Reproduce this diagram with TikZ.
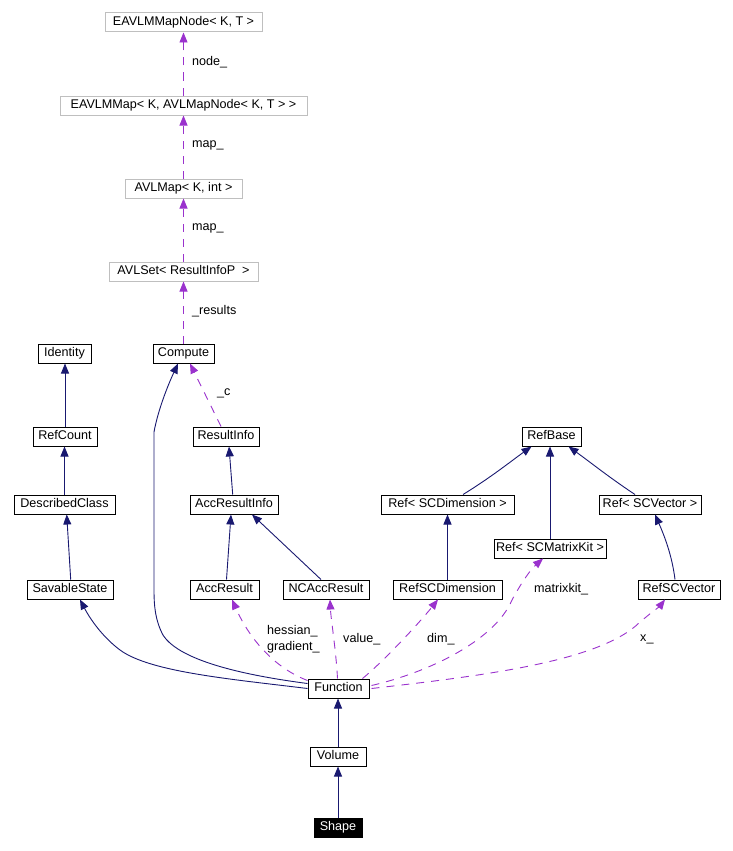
\documentclass[tikz,border=0pt]{standalone}
\usepackage{fontspec}
\setmainfont{Liberation Sans}
\usetikzlibrary{arrows.meta,calc}
\definecolor{navy}{HTML}{191970}
\definecolor{orchid}{HTML}{9A32CD}
\definecolor{grayb}{HTML}{BFBFBF}
\begin{document}
\begin{tikzpicture}[x=1pt,y=-1pt,
  cls/.style={draw=black,line width=1pt,minimum height=19pt,inner sep=0pt,
    font=\fontsize{12.6}{12.6}\selectfont,text height=9pt,text depth=2.4pt},
  tmpl/.style={cls,draw=grayb},
  inh/.style={draw=navy,line width=0.9pt,-{Triangle[length=10pt,width=8pt]}},
  use/.style={draw=orchid,line width=0.9pt,dash pattern=on 8pt off 7pt,-{Triangle[length=10pt,width=8pt]}},
  lbl/.style={anchor=west,inner sep=0pt,font=\fontsize{12.6}{12.6}\selectfont}]
\useasboundingbox (0,0) rectangle (732,851);
% nodes
\node[tmpl,minimum width=157pt] (emn) at (183.5,22.5) {EAVLMMapNode< K, T >};
\node[tmpl,minimum width=247pt] (emm) at (183.5,105.5) {EAVLMMap< K, AVLMapNode< K, T > >};
\node[tmpl,minimum width=117pt] (avlmap) at (183.5,188.5) {AVLMap< K, int >};
\node[tmpl,minimum width=149pt] (avlset) at (183.5,271.5) {AVLSet< ResultInfoP\ \ >};
\node[cls,minimum width=61pt] (compute) at (183.5,353.5) {Compute};
\node[cls,minimum width=53pt] (identity) at (64.5,353.5) {Identity};
\node[cls,minimum width=64pt] (refcount) at (65,436.5) {RefCount};
\node[cls,minimum width=101pt] (described) at (64.5,504.5) {DescribedClass};
\node[cls,minimum width=86pt] (savable) at (70,589.5) {SavableState};
\node[cls,minimum width=66pt] (resultinfo) at (226,436.5) {ResultInfo};
\node[cls,minimum width=88pt] (accresultinfo) at (234,504.5) {AccResultInfo};
\node[cls,minimum width=69pt] (accresult) at (224.5,589.5) {AccResult};
\node[cls,minimum width=86pt] (ncacc) at (326,589.5) {NCAccResult};
\node[cls,minimum width=59pt] (refbase) at (551.5,436.5) {RefBase};
\node[cls,minimum width=133pt] (refdimT) at (447.5,504.5) {Ref< SCDimension >};
\node[cls,minimum width=112pt] (refmk) at (550,548.5) {Ref< SCMatrixKit >};
\node[cls,minimum width=102pt] (refvecT) at (650,504.5) {Ref< SCVector >};
\node[cls,minimum width=109pt] (rscdim) at (447.5,589.5) {RefSCDimension};
\node[cls,minimum width=82pt] (rscvec) at (679,589.5) {RefSCVector};
\node[cls,minimum width=61pt] (function) at (338.5,688.5) {Function};
\node[cls,minimum width=56pt] (volume) at (338,756.5) {Volume};
\node[cls,minimum width=48pt,fill=black,text=white] (shape) at (338,827.5) {Shape};
% usage edges (top chain)
\draw[use] (emm.north) -- (emn.south);
\draw[use] (avlmap.north) -- (emm.south);
\draw[use] (avlset.north) -- (avlmap.south);
\draw[use] (compute.north) -- (avlset.south);
\node[lbl] (lnode) at (192,62) {node\_};
\node[lbl] (lmap1) at (192,145) {map\_};
\node[lbl] (lmap2) at (192,228) {map\_};
\node[lbl] (lres) at (192,311) {\_results};
% _c
\draw[use] ($(resultinfo.north)+(-5,0)$) -- ($(compute.south)+(6.5,0)$);
\node[lbl] (lc) at (217,393) {\_c};
% inheritance
\draw[inh] (refcount.north) -- (refcount.north |- identity.south);
\draw[inh] (described.north) -- (described.north |- refcount.south);
\draw[inh] ($(savable.north)+(0.7,0)$) -- ($(described.south)+(2.2,0)$);
\draw[inh] ($(accresultinfo.north)+(-1.3,0)$) -- ($(resultinfo.south)+(3,0)$);
\draw[inh] ($(accresult.north)+(2,0)$) -- ($(accresultinfo.south)+(-3,0)$);
\draw[inh] ($(ncacc.north)+(-5,0)$) -- ($(accresultinfo.south)+(18,0)$);
\draw[inh] ($(refdimT.north)+(15.5,0)$) .. controls (490,478) and (510,462) .. ($(refbase.south)+(-20,0)$);
\draw[inh] (refmk.north) -- (refmk.north |- refbase.south);
\draw[inh] ($(refvecT.north)+(-15,0)$) .. controls (610,478) and (590,462) .. ($(refbase.south)+(17,0)$);
\draw[inh] (rscdim.north) -- (rscdim.north |- refdimT.south);
\draw[inh] ($(rscvec.north)+(-4,0)$) .. controls (672,555) and (664,535) .. ($(refvecT.south)+(5,0)$);
\draw[inh] (volume.north) -- (volume.north |- function.south);
\draw[inh] (shape.north) -- (shape.north |- volume.south);
\draw[inh] ($(function.west)+(0,-5)$) .. controls (250,676) and (180,662) .. (163,635)
  .. controls (155,620) and (154,605) .. (154,590) -- (154,432)
  .. controls (158,410) and (168,385) .. ($(compute.south)+(-5.5,0)$);
\draw[inh] (function.west) .. controls (230,679) and (150,672) .. (120,650)
  .. controls (100,635) and (88,615) .. ($(savable.south)+(10,0)$);
% usage edges from Function
\draw[use] ($(function.north west)+(0,2)$) .. controls (275,668) and (250,640) .. ($(accresult.south)+(7.5,0)$);
\node[lbl] (lhes) at (267,631) {hessian\_};
\node[lbl] (lgrad) at (267,647) {gradient\_};
\draw[use] ($(function.north)+(-1,0)$) .. controls (336,650) and (331,620) .. ($(ncacc.south)+(4,0)$);
\node[lbl] (lval) at (343,639) {value\_};
\draw[use] ($(function.north east)+(-7,0)$) .. controls (385,660) and (420,622) .. ($(rscdim.south)+(-9.5,0)$);
\node[lbl] (ldim) at (427,639) {dim\_};
\draw[use] ($(function.east)+(2,-3)$) .. controls (430,672) and (495,640) .. (512,600)
  .. controls (520,585) and (530,570) .. ($(refmk.south)+(-7,0)$);
\node[lbl] (lmk) at (534,589) {matrixkit\_};
\draw[use] ($(function.east)+(2,0)$) .. controls (480,676) and (600,662) .. (640,622)
  .. controls (652,612) and (660,606) .. ($(rscvec.south)+(-14,0)$);
\node[lbl] (lx) at (640,639) {x\_};
\end{tikzpicture}
\end{document}
